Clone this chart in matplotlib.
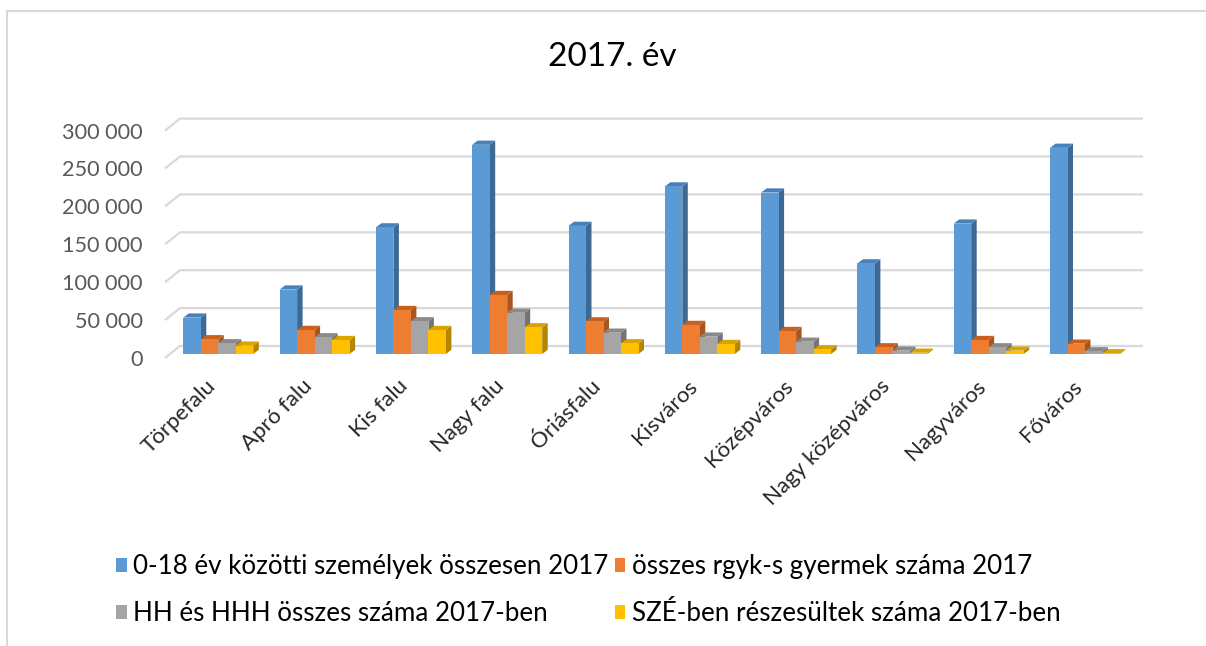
import matplotlib.pyplot as plt
import matplotlib.transforms as mtransforms
from matplotlib.patches import Polygon, Patch, Rectangle

plt.rcParams['font.family'] = ['Lato', 'DejaVu Sans']

title = '2017. év'
categories = ['Törpefalu', 'Apró falu', 'Kis falu', 'Nagy falu', 'Óriásfalu',
              'Kisváros', 'Középváros', 'Nagy középváros', 'Nagyváros', 'Főváros']
series_names = ['0-18 év közötti személyek összesen 2017',
                'összes rgyk-s gyermek száma 2017',
                'HH és HHH összes száma 2017-ben',
                'SZÉ-ben részesültek száma 2017-ben']
persons_0_18 = [48000, 85000, 167000, 276000, 169000, 221000, 213000, 119500, 172000, 272000]
rgyk_children = [19400, 31700, 58000, 77800, 43000, 38300, 30300, 8800, 18400, 13600]
hh_hhh = [14100, 22000, 43100, 54400, 28100, 22900, 16200, 4400, 8800, 3500]
sze = [11000, 18400, 31600, 35200, 14100, 13200, 6100, 1700, 4400, 900]
values = [persons_0_18, rgyk_children, hh_hhh, sze]
yticks = [0, 50000, 100000, 150000, 200000, 250000, 300000]

colors = ['#5B9BD5', '#ED7D31', '#A5A5A5', '#FFC000']
side_colors = ['#3D6A94', '#A8561E', '#747474', '#B38600']
top_colors = ['#4A80B8', '#C8601C', '#8A8A8A', '#D9A300']

W, H = 1206, 646
fig = plt.figure(figsize=(W / 100, H / 100), dpi=100)

# plot box in pixels (front wall): x 165..1143, y 116..358
left_px, right_px, top_px, bottom_px = 165, 1143, 116, 358
ax = fig.add_axes([left_px / W, 1 - bottom_px / H,
                   (right_px - left_px) / W, (bottom_px - top_px) / H])

group_px = 96.3
first_center_px = 218.3
xmin = (left_px - first_center_px) / group_px
xmax = (right_px - first_center_px) / group_px
px_per_unit_y = 37.9 / 50000
ymax = (bottom_px - top_px) / px_per_unit_y
ax.set_xlim(xmin, xmax)
ax.set_ylim(0, ymax)

def px_x(p):
    return p / group_px

def px_y(p):
    return p / px_per_unit_y

# back wall gridlines with slanted part at the side wall
wall_dx, wall_dy = 15, 12
for v in yticks:
    ax.plot([xmin, xmin + px_x(wall_dx), xmax],
            [v, v + px_y(wall_dy), v + px_y(wall_dy)],
            color='#D9D9D9', lw=1.6, zorder=1, clip_on=False, solid_capstyle='butt')

# bars: front faces sit a little behind the front edge of the floor
bar_w = 17.5 / group_px
bar_dx, bar_dy = px_x(5.5), px_y(4.2)
base = px_y(4)
for s, vals in enumerate(values):
    for i, v in enumerate(vals):
        xl = i - 2 * bar_w + s * bar_w
        xr = xl + bar_w
        z = 3 + s * 2
        ax.add_patch(Rectangle((xl, base), bar_w, v, facecolor=colors[s],
                               edgecolor='none', zorder=z + 1, clip_on=False))
        ax.add_patch(Polygon([(xr, base), (xr, base + v), (xr + bar_dx, base + v + bar_dy),
                              (xr + bar_dx, base + bar_dy)],
                             closed=True, facecolor=side_colors[s], edgecolor='none',
                             zorder=z, clip_on=False))
        ax.add_patch(Polygon([(xl, base + v), (xr, base + v), (xr + bar_dx, base + v + bar_dy),
                              (xl + bar_dx, base + v + bar_dy)],
                             closed=True, facecolor=top_colors[s], edgecolor='none',
                             zorder=z, clip_on=False))

for sp in ax.spines.values():
    sp.set_visible(False)
ax.set_yticks(yticks)
ax.set_yticklabels([f'{v:,}'.replace(',', ' ') for v in yticks],
                   fontsize=15.6, color='#595959')
ax.tick_params(axis='y', length=0, pad=16)
ax.set_xticks(range(len(categories)))
ax.set_xticklabels(categories, rotation=45, ha='right', rotation_mode='anchor',
                   fontsize=16, color='#262626')
ax.tick_params(axis='x', length=0, pad=13)
shift = mtransforms.ScaledTranslation(-13 / 100, 0, fig.dpi_scale_trans)
for lab in ax.get_xticklabels():
    lab.set_transform(lab.get_transform() + shift)
ax.patch.set_visible(False)

fig.text(612 / W, 1 - 57 / H, title, ha='center', va='center', fontsize=24, color='black')

# legend is filled row by row in the original
order = [0, 2, 1, 3]
handles = [Patch(facecolor=colors[k], edgecolor='none') for k in order]
labels = [series_names[k] for k in order]
fig.legend(handles, labels, ncol=2, loc='upper left',
           bbox_to_anchor=(106 / W, 1 - 544 / H), frameon=False,
           fontsize=18.7, handlelength=0.4, handleheight=0.45, handletextpad=0.25,
           columnspacing=0.25, labelspacing=0.85, borderaxespad=0)

# chart area border
fig.patches.append(Rectangle((7 / W, -0.1), 1.2, 1 - 11 / H + 0.1, transform=fig.transFigure,
                             facecolor='none', edgecolor='#D9D9D9', lw=1.5))

fig.savefig('out.png', dpi=100)
